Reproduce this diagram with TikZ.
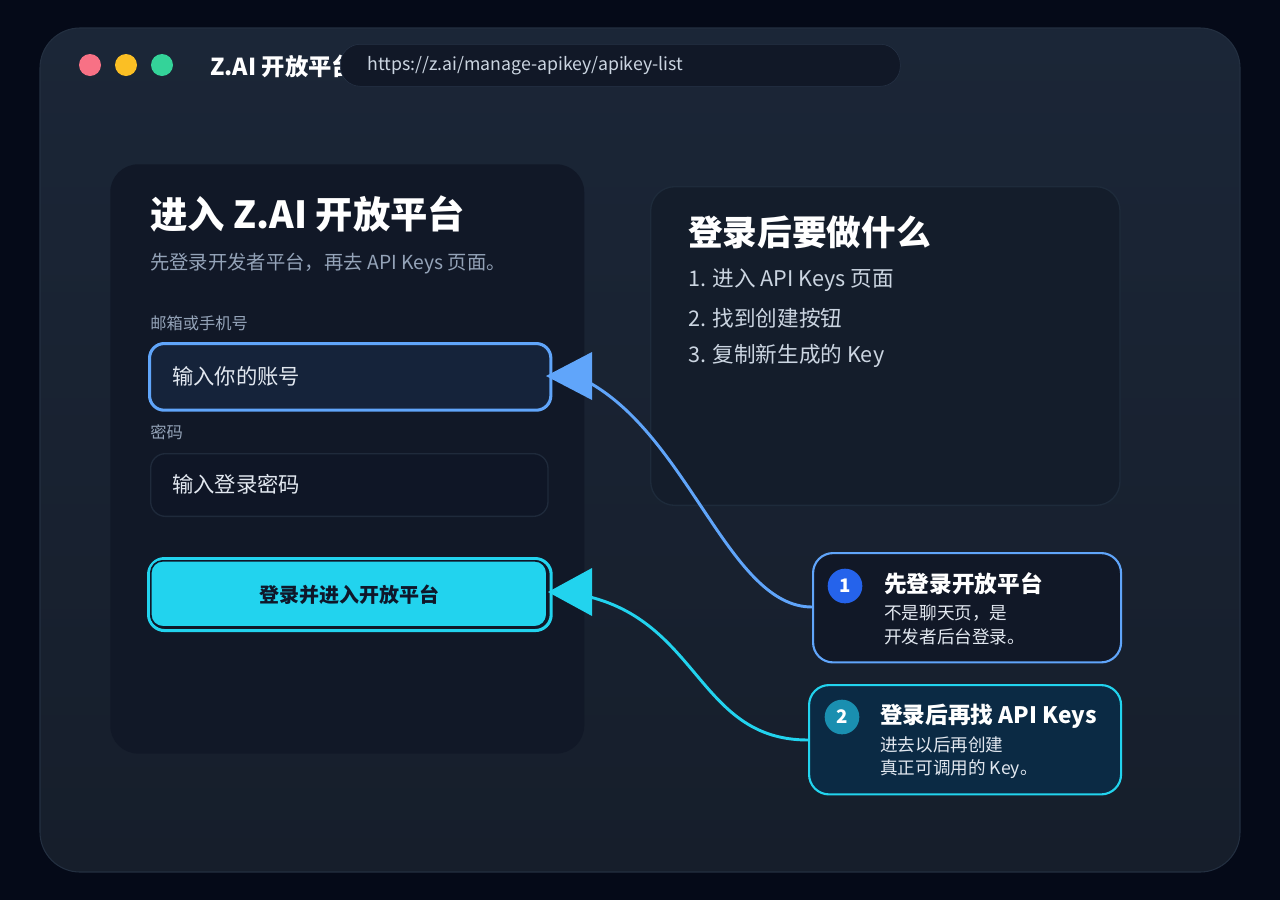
\documentclass[tikz,border=0pt]{standalone}
\usepackage{fontspec}
\setmainfont{Noto Sans CJK SC}
\definecolor{bg}{HTML}{050A18}
\definecolor{win}{HTML}{1B2637}
\definecolor{winb}{HTML}{161E2B}
\definecolor{winl}{HTML}{232F40}
\definecolor{panel}{HTML}{111827}
\definecolor{muted}{HTML}{94A3B8}
\definecolor{light}{HTML}{CBD5E1}
\definecolor{wtxt}{HTML}{E2E8F0}
\definecolor{blue}{HTML}{60A5FA}
\definecolor{cyan}{HTML}{22D3EE}
\definecolor{cred}{HTML}{F87185}
\definecolor{cyel}{HTML}{FBBF24}
\definecolor{cgrn}{HTML}{34D399}
\definecolor{urlb}{HTML}{263246}
\definecolor{in1f}{HTML}{15233A}
\definecolor{in2d}{HTML}{1F2A3B}
\definecolor{in2f}{HTML}{0F1626}
\definecolor{dark}{HTML}{0F172A}
\definecolor{rpd}{HTML}{1E2B3B}
\definecolor{rpf}{HTML}{141D2B}
\definecolor{nblue}{HTML}{2563EB}
\definecolor{c2f}{HTML}{0B2A44}
\definecolor{ncyan}{HTML}{1A8FB0}
\begin{document}
\begin{tikzpicture}[x=0.75pt,y=-0.75pt,
  txt/.style={anchor=west,inner sep=0pt,font=\fontsize{#1}{#1}\selectfont},
  btxt/.style={anchor=west,inner sep=0pt,font=\fontsize{#1}{#1}\selectfont\bfseries,text=white},
  dot/.style={circle,minimum size=16.5pt,inner sep=0pt}]
\useasboundingbox (0,0) rectangle (1280,900);
\fill[bg] (0,0) rectangle (1280,900);
\shade[rounded corners=30pt,top color=win,bottom color=winb,draw=none] (40,28) rectangle (1240,872);
\draw[rounded corners=30pt,color=winl,line width=0.8pt] (40,28) rectangle (1240,872);
% title bar
\node[dot,fill=cred] (d1) at (90,65) {};
\node[dot,fill=cyel] (d2) at (126,65) {};
\node[dot,fill=cgrn] (d3) at (162,65) {};
\node[btxt=17.5] (ttl) at (210,66) {Z.AI 开放平台};
\node[draw=urlb,fill=panel,rounded corners=15pt,minimum width=420pt,minimum height=31.5pt,anchor=north west] (url) at (340,44) {};
\node[txt=13.3,text=light] (urlt) at (367,66) {https://z.ai/manage-apikey/apikey-list};
% left panel
\node[fill=panel,rounded corners=21pt,minimum width=355.5pt,minimum height=442pt,anchor=north west] (lp) at (110,164) {};
\node[btxt=28] (h1) at (150,214) {进入 Z.AI 开放平台};
\node[txt=14.5,text=muted] (sub) at (150,264) {先登录开发者平台，再去 API Keys 页面。};
\node[txt=12.2,text=muted] (l1) at (150,323) {邮箱或手机号};
\node[draw=blue,line width=2.3pt,fill=in1f,rounded corners=11pt,minimum width=301pt,minimum height=50pt,anchor=north west] (in1) at (148,342) {};
\node[txt=16,text=wtxt] (in1t) at (172,376) {输入你的账号};
\node[txt=12.2,text=muted] (l2) at (150,432) {密码};
\node[draw=in2d,line width=1pt,fill=in2f,rounded corners=11pt,minimum width=298pt,minimum height=47pt,anchor=north west] (in2) at (150,453) {};
\node[txt=16,text=wtxt] (in2t) at (172,484) {输入登录密码};
\node[draw=cyan,line width=2.3pt,rounded corners=12pt,minimum width=302pt,minimum height=54pt,anchor=north west] (btn) at (147,557) {};
\node[fill=cyan,draw=dark,line width=1.2pt,rounded corners=9pt,minimum width=297pt,minimum height=49.5pt,anchor=north west] (btnin) at (150,560) {};
\node[inner sep=0pt,font=\fontsize{15}{15}\selectfont\bfseries,text=dark] (btnt) at (349,595) {登录并进入开放平台};
% right panel
\node[draw=rpd,fill=rpf,line width=1pt,rounded corners=18pt,minimum width=352pt,minimum height=239pt,anchor=north west] (rp) at (650,186) {};
\node[btxt=26] (h2) at (688,232) {登录后要做什么};
\node[txt=16.2,text=light] (s1) at (688,280) {1. 进入 API Keys 页面};
\node[txt=16.2,text=light] (s2) at (688,318) {2. 找到创建按钮};
\node[txt=16.2,text=light] (s3) at (688,356) {3. 复制新生成的 Key};
% callouts
\node[draw=blue,line width=1.6pt,fill=panel,rounded corners=15pt,minimum width=231pt,minimum height=82pt,anchor=north west] (c1) at (812,552) {};
\node[circle,fill=nblue,minimum size=26pt,inner sep=0pt,text=white,font=\fontsize{14}{14}\selectfont\bfseries] (n1) at (845,586) {1};
\node[btxt=17] (c1t) at (884,584) {先登录开放平台};
\node[txt=13.2,text=wtxt] (c1a) at (884,613) {不是聊天页，是};
\node[txt=13.2,text=wtxt] (c1b) at (884,637) {开发者后台登录。};
\node[draw=cyan,line width=1.6pt,fill=c2f,rounded corners=15pt,minimum width=234pt,minimum height=82pt,anchor=north west] (c2) at (808,684) {};
\node[circle,fill=ncyan,minimum size=26pt,inner sep=0pt,text=white,font=\fontsize{14}{14}\selectfont\bfseries] (n2) at (842,717) {2};
\node[btxt=17] (c2t) at (880,716) {登录后再找 API Keys};
\node[txt=13.2,text=wtxt] (c2a) at (880,745) {进去以后再创建};
\node[txt=13.2,text=wtxt] (c2b) at (880,769) {真正可调用的 Key。};
% connectors
\coordinate (a1) at (590,383);
\coordinate (a2) at (590,597);
\coordinate (e1) at (812,607);
\coordinate (e2) at (808,740);
\draw[blue,line width=2.2pt] (e1) .. controls (730,607) and (690,440) .. (a1);
\fill[blue] (546,376) -- (592,352) -- (592,400) -- cycle;
\draw[cyan,line width=2.2pt] (e2) .. controls (700,740) and (700,625) .. (a2);
\fill[cyan] (548,592) -- (592,568) -- (592,616) -- cycle;
\end{tikzpicture}
\end{document}
